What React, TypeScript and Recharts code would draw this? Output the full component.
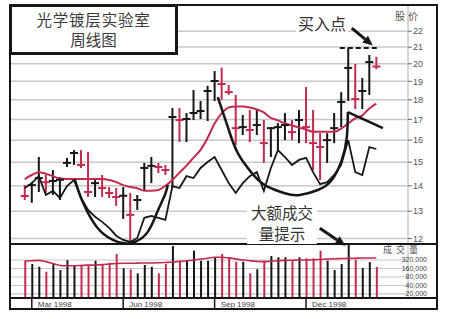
import {
  Bar,
  CartesianGrid,
  ComposedChart,
  Line,
  ReferenceLine,
  Scatter,
  XAxis,
  YAxis,
} from "recharts";

// weekly bars, Feb 23 1998 .. Feb 8 1999
const highs = [
  14.03, 14.15, 15.23, 14.45, 14.66, 14.36, 15.19, 15.54, 15.54, 15.45,
  14.24, 14.45, 13.95, 13.91, 13.95, 13.71, 13.63, 14.97, 15.23, 14.97,
  14.88, 17.57, 17.57, 17.32, 18.52, 17.94, 18.75, 19.58, 19.78, 18.8,
  18.26, 17.22, 17.47, 17.47, 16.97, 16.62, 16.82, 17.32, 16.97, 17.47,
  18.69, 17.47, 16.33, 16.33, 17.32, 18.41, 20.94, 19.99, 19.19, 20.52,
  20.41,
];
const lows = [
  13.43, 13.32, 13.75, 13.7, 13.63, 13.43, 14.79, 14.88, 14.75, 13.55,
  13.55, 13.55, 13.51, 13.2, 12.71, 11.85, 13.05, 13.83, 14.11, 14.53,
  14.45, 13.91, 15.91, 15.91, 16.97, 17.02, 16.92, 17.94, 17.99, 18.26,
  15.77, 16.24, 15.91, 16.24, 14.97, 15.23, 15.54, 16.0, 16.0, 15.86,
  15.86, 14.66, 14.24, 14.97, 15.86, 16.62, 17.94, 17.52, 17.52, 18.26,
  19.69,
];
const closes = [
  13.59, 14.03, 14.32, 14.15, 14.2, 14.25, 14.97, 15.41, 14.88, 13.75,
  14.11, 13.91, 13.71, 13.55, 13.6, 12.86, 13.43, 14.75, 14.84, 14.79,
  14.66, 17.12, 16.97, 17.02, 17.32, 17.42, 18.47, 19.02, 18.85, 18.41,
  16.57, 16.62, 16.48, 16.72, 15.86, 16.57, 16.62, 16.72, 16.38, 16.97,
  16.62, 15.86, 15.68, 16.0, 16.57, 17.89, 19.76, 18.04, 18.47, 20.1,
  19.84,
];
const priorClose = 13.7;

// 10-week average of the close
const priceMA = [
  14.28, 14.45, 14.57, 14.5, 14.4, 14.3, 14.28, 14.28, 14.28, 14.28,
  14.28, 14.28, 14.24, 14.15, 14.03, 13.95, 13.9, 13.8, 13.8, 13.83,
  14.0, 14.24, 14.55, 14.85, 15.2, 15.55, 16.1, 16.8, 17.3, 17.6,
  17.65, 17.65, 17.6, 17.5, 17.35, 17.07, 16.95, 16.8, 16.7, 16.6,
  16.5, 16.4, 16.4, 16.4, 16.4, 16.55, 16.8, 17.05, 17.2, 17.55,
  17.8,
];

// relative strength line
const relStrength = [
  13.91, 14.11, 14.4, 13.63, 13.79, 13.51, 13.99, 14.24, 13.51, 13.05,
  12.79, 12.6, 12.38, 12.1, 11.95, 11.88, 12.02, 12.75, 12.82, 12.75,
  12.67, 13.99, 13.91, 14.4, 14.32, 14.75, 15.01, 15.23, 14.66, 14.11,
  13.71, 14.11, 14.4, 14.57, 13.79, 14.75, 15.54, 15.23, 14.88, 15.1,
  15.19, 14.57, 14.07, 14.15, 14.45, 14.88, 16.0, 14.57, 14.45, 15.68,
  15.59,
];

const volumes = [
  302000, 231000, 185000, 123000, 231000, 141000, 315000, 196000, 196000, 196000,
  302000, 231000, 257000, 522000, 163000, 150000, 108000, 213000, 185000, 108000,
  231000, 1000000, 302000, 302000, 684000, 302000, 302000, 399000, 522000, 399000,
  279000, 279000, 108000, 150000, 302000, 443000, 399000, 399000, 320000, 399000,
  368000, 368000, 684000, 302000, 141000, 231000, 1150000, 330000, 167000, 271000,
  181000,
];
const volumeMA = [
  294000, 300000, 310000, 280000, 240000, 205000, 200000, 200000, 205000, 210000,
  213000, 220000, 230000, 240000, 245000, 245000, 248000, 250000, 251000, 255000,
  262000, 270000, 285000, 300000, 320000, 345000, 370000, 400000, 400000, 380000,
  350000, 320000, 300000, 285000, 280000, 290000, 300000, 310000, 315000, 320000,
  320000, 325000, 335000, 345000, 355000, 360000, 365000, 370000, 375000, 376000,
  376000,
];

const monthTicks = [1, 6, 10, 14, 18, 22, 27, 32, 36, 40, 45, 49];
const quarterTicks = [1, 14, 27, 40];
const quarterLabels = ["Mar 1998", "Jun 1998", "Sep 1998", "Dec 1998"];
const priceTicks = [12, 13, 14, 15, 16, 17, 18, 19, 20, 21, 22];
const volumeTicks = [20000, 40000, 80000, 160000, 320000];

// hand-drawn bases (week index, price)
const leftCup = [
  { i: 7.11, p: 14.27 },
  { i: 8.25, p: 13.35 },
  { i: 10.24, p: 12.41 },
  { i: 12.52, p: 11.95 },
  { i: 14.94, p: 11.84 },
  { i: 17.35, p: 12.19 },
  { i: 18.78, p: 12.93 },
  { i: 19.91, p: 13.62 },
  { i: 20.34, p: 14.03 },
];
const rightCup = [
  { i: 27.45, p: 18.14 },
  { i: 28.88, p: 16.62 },
  { i: 30.3, p: 15.4 },
  { i: 32.3, p: 14.53 },
  { i: 34.14, p: 14.03 },
  { i: 36.98, p: 13.7 },
  { i: 39.1, p: 13.63 },
  { i: 41.68, p: 13.83 },
  { i: 43.67, p: 14.24 },
  { i: 45.09, p: 15.1 },
  { i: 45.8, p: 16.14 },
  { i: 45.95, p: 17.37 },
];
const handle = [
  { i: 45.95, p: 17.37 },
  { i: 50.93, p: 16.57 },
];
const pivotPrice = 20.95;

const RED = "#c42a4e";
const INK = "#161616";
const GRID = "#c8c8c8";
const AXIS_FONT = "Liberation Sans, Arial, sans-serif";
const CJK_FONT = "'Noto Sans CJK SC', sans-serif";

const xDomain: [number, number] = [-2.1, 54.5];

const weeks = closes.map((close, i) => ({
  i,
  close,
  hilo: [lows[i], highs[i]],
  ma: priceMA[i],
  rs: relStrength[i],
  vol: volumes[i],
  vma: volumeMA[i],
  up: close >= (i === 0 ? priorClose : closes[i - 1]),
}));

function HiLo(props: any) {
  const { x, y, width, height, payload } = props;
  const cx = x + width / 2;
  return (
    <line x1={cx} x2={cx} y1={y} y2={y + height} stroke={payload.up ? INK : RED} strokeWidth={2} />
  );
}

function CloseTick(props: any) {
  const { cx, cy, payload } = props;
  return (
    <line x1={cx - 4} x2={cx + 4} y1={cy} y2={cy} stroke={payload.up ? INK : RED} strokeWidth={2} />
  );
}

function VolumeBar(props: any) {
  const { x, y, width, height, payload } = props;
  const cx = x + width / 2;
  return (
    <line x1={cx} x2={cx} y1={y} y2={y + height} stroke={payload.up ? INK : RED} strokeWidth={2} />
  );
}

function Arrow(props: any) {
  const { x1, y1, x2, y2 } = props;
  const a = Math.atan2(y2 - y1, x2 - x1);
  const len = 10;
  const half = 4.5;
  const bx = x2 - len * Math.cos(a);
  const by = y2 - len * Math.sin(a);
  const px = -Math.sin(a) * half;
  const py = Math.cos(a) * half;
  return (
    <g>
      <line x1={x1} y1={y1} x2={bx} y2={by} stroke={INK} strokeWidth={3} />
      <polygon points={`${x2},${y2} ${bx + px},${by + py} ${bx - px},${by - py}`} fill={INK} />
    </g>
  );
}

function VolumeTick(props: any) {
  const { x, y, payload } = props;
  return (
    <text x={x + 19} y={y} dy={2.5} textAnchor="end" fontSize={7} fill="#444" fontFamily={AXIS_FONT}>
      {payload.value.toLocaleString("en-US")}
    </text>
  );
}

function QuarterTick(props: any) {
  const { x, y, payload } = props;
  const label = quarterLabels[quarterTicks.indexOf(payload.value)];
  return (
    <g>
      <line x1={x} x2={x} y1={y} y2={y + 11} stroke={INK} strokeWidth={1.5} />
      <text x={x + 6} y={y + 9} fontSize={8} fill="#444" fontFamily={AXIS_FONT}>
        {label}
      </text>
    </g>
  );
}

const layer = { position: "absolute" as const, left: 0, top: 0 };

export default function App() {
  return (
    <div style={{ position: "absolute", left: 0, top: 0, width: 449, height: 319, background: "#fff" }}>
      <div style={layer}>
        <ComposedChart width={449} height={319} data={weeks} margin={{ top: 5, right: 0, bottom: 75, left: 10 }}>
          <CartesianGrid stroke={GRID} strokeWidth={1.5} />
          <XAxis
            type="number"
            dataKey="i"
            domain={xDomain}
            ticks={monthTicks}
            allowDataOverflow
            height={0}
            tick={false}
            tickLine={false}
            axisLine={false}
          />
          <YAxis
            orientation="right"
            scale="log"
            domain={[11.81, 23.75]}
            ticks={priceTicks}
            interval={0}
            allowDataOverflow
            width={41}
            axisLine={false}
            tickSize={4}
            tickMargin={1}
            tickLine={{ stroke: "#666" }}
            tick={{ fontSize: 9, fill: "#555", fontFamily: AXIS_FONT }}
          />
          <Bar dataKey="hilo" barSize={2} shape={HiLo} isAnimationActive={false} />
          <Scatter dataKey="close" shape={CloseTick} isAnimationActive={false} />
          <Line dataKey="ma" type="monotone" stroke={RED} strokeWidth={2} dot={false} isAnimationActive={false} />
          <Line dataKey="rs" type="linear" stroke={INK} strokeWidth={1.8} dot={false} isAnimationActive={false} />
          <Line data={leftCup} dataKey="p" type="natural" stroke={INK} strokeWidth={2.5} dot={false} isAnimationActive={false} />
          <Line data={rightCup} dataKey="p" type="natural" stroke={INK} strokeWidth={2.5} dot={false} isAnimationActive={false} />
          <Line data={handle} dataKey="p" type="linear" stroke={INK} strokeWidth={2.5} dot={false} isAnimationActive={false} />
          <ReferenceLine
            segment={[{ x: 44.8, y: pivotPrice }, { x: 50.2, y: pivotPrice }]}
            stroke={INK}
            strokeWidth={2}
            strokeDasharray="5 3"
          />
          <ReferenceLine
            segment={[{ x: 46.5, y: 22.2 }, { x: 49.5, y: 21.1 }]}
            shape={Arrow}
            ifOverflow="visible"
          />
          <ReferenceLine
            segment={[{ x: 41.96, y: 12.37 }, { x: 45.6, y: 11.75 }]}
            shape={Arrow}
            ifOverflow="visible"
          />
        </ComposedChart>
      </div>

      <div style={layer}>
        <ComposedChart width={449} height={319} data={weeks} margin={{ top: 244, right: 0, bottom: 0, left: 10 }}>
          <CartesianGrid stroke={GRID} strokeWidth={1.2} />
          <XAxis
            type="number"
            dataKey="i"
            domain={xDomain}
            ticks={monthTicks}
            allowDataOverflow
            height={0}
            tick={false}
            tickLine={false}
            axisLine={false}
          />
          <XAxis
            xAxisId="q"
            type="number"
            dataKey="i"
            domain={xDomain}
            ticks={quarterTicks}
            interval={0}
            allowDataOverflow
            height={21}
            tickSize={0}
            tickMargin={0}
            tickLine={false}
            axisLine={false}
            tick={QuarterTick}
          />
          <YAxis
            orientation="right"
            scale="log"
            domain={[14400, 1180000]}
            ticks={volumeTicks}
            interval={0}
            allowDataOverflow
            width={41}
            axisLine={false}
            tickLine={false}
            tickSize={0}
            tickMargin={0}
            tick={VolumeTick}
          />
          <Bar dataKey="vol" barSize={2} shape={VolumeBar} isAnimationActive={false} />
          <Line dataKey="vma" type="monotone" stroke={RED} strokeWidth={1.6} dot={false} isAnimationActive={false} />
        </ComposedChart>
      </div>

      {/* frame and panel dividers */}
      <div style={{ position: "absolute", left: 9, top: 4, width: 425, height: 302, border: `2px solid ${INK}` }} />
      <div style={{ position: "absolute", left: 10, top: 243, width: 427, height: 2, background: INK }} />
      <div style={{ position: "absolute", left: 10, top: 297, width: 427, height: 1.5, background: INK }} />

      <div
        style={{
          position: "absolute",
          left: 9,
          top: 4,
          width: 163,
          height: 43,
          border: `3px solid ${INK}`,
          background: "#fff",
          fontFamily: CJK_FONT,
          fontSize: 15.5,
          lineHeight: "20px",
          color: "#3a3a3a",
          textAlign: "center",
          paddingTop: 2,
          boxSizing: "content-box",
        }}
      >
        <div style={{ letterSpacing: 0.8 }}>光学镀层实验室</div>
        <div>周线图</div>
      </div>

      <div
        style={{
          position: "absolute",
          left: 296,
          top: 13,
          padding: "0 2px",
          background: "#fff",
          fontFamily: CJK_FONT,
          fontSize: 16,
          lineHeight: "20px",
          color: "#333",
        }}
      >
        买入点
      </div>

      <div
        style={{
          position: "absolute",
          left: 247,
          top: 202,
          width: 70,
          background: "#fff",
          fontFamily: CJK_FONT,
          fontSize: 15.5,
          lineHeight: "21px",
          color: "#333",
          textAlign: "center",
        }}
      >
        <div>大额成交</div>
        <div>量提示</div>
      </div>

      <div
        style={{
          position: "absolute",
          left: 395,
          top: 8,
          fontFamily: CJK_FONT,
          fontSize: 10,
          letterSpacing: 3,
          color: "#555",
        }}
      >
        股价
      </div>
      <div
        style={{
          position: "absolute",
          left: 383,
          top: 244,
          fontFamily: CJK_FONT,
          fontSize: 9,
          lineHeight: "12px",
          letterSpacing: 4,
          color: "#555",
        }}
      >
        成交量
      </div>
    </div>
  );
}
